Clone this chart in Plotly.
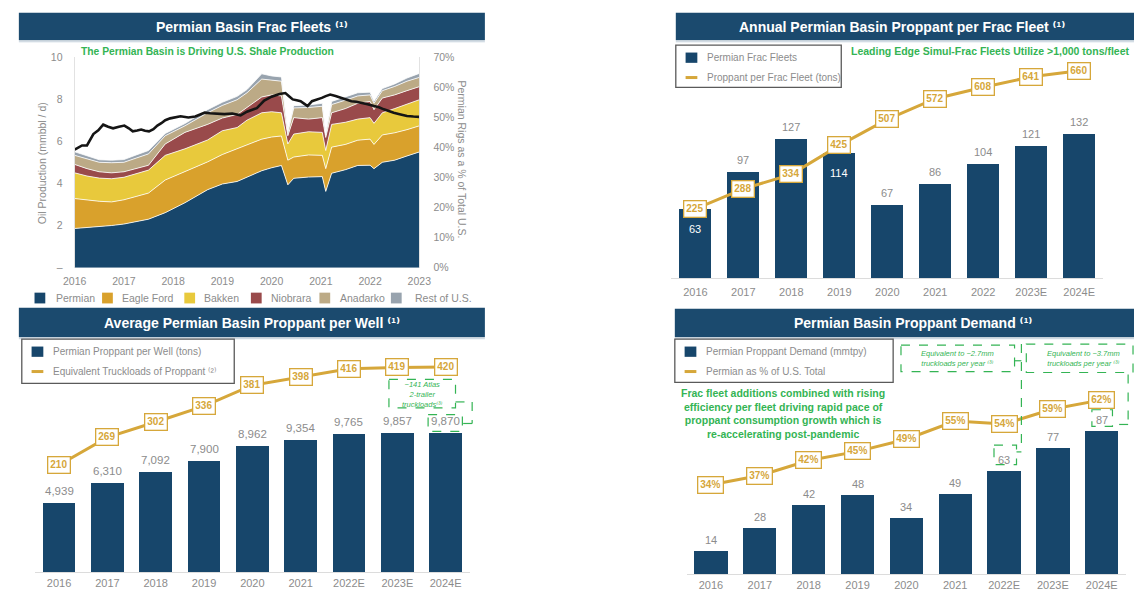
import plotly.graph_objects as go

W, H = 1146, 600
FONT = "Liberation Sans, Arial, DejaVu Sans, sans-serif"
NAVY = "#17466b"
GOLD = "#d6a73a"
GREEN = "#34b454"
GRAY = "#8c8c8c"
DARK_LINE = "#151515"

# ---------------- Permian Basin Frac Fleets: oil production by basin (mmbbl/d)
prod_dates = [2016.0, 2016.25, 2016.5, 2016.75, 2017.0, 2017.25, 2017.5, 2017.84, 2018.24, 2018.7,
              2019.0, 2019.3, 2019.5, 2019.8, 2020.0, 2020.2, 2020.33, 2020.45, 2020.75, 2021.03,
              2021.1, 2021.22, 2021.5, 2021.75, 2022.0, 2022.08, 2022.25, 2022.5, 2022.75, 2023.0]
permian = [1.86, 1.90, 1.95, 2.00, 2.07, 2.18, 2.30, 2.61, 3.08, 3.70,
           3.97, 4.09, 4.30, 4.60, 4.74, 4.85, 3.93, 4.24, 4.30, 4.32,
           3.62, 4.48, 4.65, 4.85, 4.86, 4.70, 5.00, 5.10, 5.30, 5.49]
eagle_ford = [1.42, 1.30, 1.20, 1.12, 1.15, 1.20, 1.24, 1.55, 1.47, 1.32,
              1.40, 1.55, 1.50, 1.50, 1.46, 1.40, 1.17, 1.01, 1.05, 1.01,
              1.08, 1.24, 1.20, 1.20, 1.24, 1.15, 1.30, 1.30, 1.25, 1.24]
bakken = [1.22, 1.15, 1.10, 1.10, 1.07, 1.07, 1.09, 1.17, 1.09, 1.04,
          1.13, 1.01, 1.20, 1.25, 1.20, 1.10, 0.77, 1.09, 1.10, 1.09,
          0.86, 1.08, 1.05, 1.00, 1.02, 1.00, 1.05, 1.15, 1.20, 1.24]
niobrara = [0.40, 0.35, 0.30, 0.28, 0.26, 0.27, 0.23, 0.54, 0.78, 0.74,
            0.60, 0.62, 0.60, 0.75, 0.80, 0.80, 0.39, 0.78, 0.60, 0.70,
            0.62, 0.55, 0.65, 0.75, 0.77, 0.65, 0.70, 0.65, 0.65, 0.62]
anadarko = [0.43, 0.45, 0.45, 0.48, 0.45, 0.48, 0.54, 0.39, 0.31, 0.55,
            0.60, 0.70, 0.70, 0.85, 0.70, 0.70, 0.14, 0.46, 0.55, 0.54,
            0.12, 0.39, 0.40, 0.35, 0.31, 0.30, 0.35, 0.40, 0.45, 0.44]
rest_us = [0.17, 0.15, 0.12, 0.12, 0.13, 0.15, 0.16, 0.11, 0.11, 0.15,
           0.15, 0.16, 0.15, 0.25, 0.20, 0.20, 0.10, 0.11, 0.12, 0.14,
           0.10, 0.15, 0.15, 0.15, 0.13, 0.10, 0.10, 0.12, 0.15, 0.19]
basin_names = ["Permian", "Eagle Ford", "Bakken", "Niobrara", "Anadarko", "Rest of U.S."]
basin_colors = ["#17466b", "#d9a12c", "#e8c93c", "#994a4b", "#bcaa86", "#98a3ae"]

# Permian rigs as % of total U.S.
rig_dates = [2016.0, 2016.08, 2016.15, 2016.25, 2016.38, 2016.48, 2016.58, 2016.68, 2016.78, 2016.9,
             2017.01, 2017.1, 2017.18, 2017.27, 2017.35, 2017.43, 2017.51, 2017.6, 2017.68, 2017.76,
             2017.84, 2017.94, 2018.04, 2018.15, 2018.31, 2018.45, 2018.55, 2018.64, 2018.75, 2018.88,
             2019.04, 2019.2, 2019.37, 2019.5, 2019.6, 2019.7, 2019.85, 2020.0, 2020.16, 2020.28,
             2020.36, 2020.43, 2020.51, 2020.59, 2020.66, 2020.73, 2020.82, 2020.92, 2021.02, 2021.1,
             2021.19, 2021.3, 2021.42, 2021.52, 2021.62, 2021.72, 2021.82, 2021.95, 2022.08, 2022.18,
             2022.28, 2022.38, 2022.48, 2022.6, 2022.75, 2022.88, 2023.0]
rig_share = [39.2, 40.0, 40.6, 40.6, 44.4, 45.6, 47.5, 46.8, 46.3, 46.8,
             47.2, 46.3, 45.3, 45.6, 45.9, 45.5, 45.3, 46.0, 47.2, 48.0,
             49.0, 49.6, 49.9, 50.3, 49.9, 50.2, 50.9, 51.5, 51.3, 51.1,
             51.0, 51.2, 50.6, 51.8, 52.3, 53.0, 55.5, 56.8, 57.7, 58.0,
             56.9, 55.9, 55.6, 55.3, 54.5, 53.7, 55.3, 55.8, 56.4, 57.0,
             57.5, 57.0, 56.4, 55.9, 55.3, 55.1, 54.8, 54.3, 53.7, 53.3,
             52.6, 52.0, 51.5, 51.0, 50.4, 50.2, 50.1]
prod_ticks = [0, 2, 4, 6, 8, 10]
prod_ticktext = ["–", "2", "4", "6", "8", "10"]
share_ticks = [0, 10, 20, 30, 40, 50, 60, 70]
year_ticks = [2016, 2017, 2018, 2019, 2020, 2021, 2022, 2023]

# ---------------- Annual Permian Basin Proppant per Frac Fleet
fleet_years = ["2016", "2017", "2018", "2019", "2020", "2021", "2022", "2023E", "2024E"]
frac_fleets = [63, 97, 127, 114, 67, 86, 104, 121, 132]
proppant_per_fleet = [225, 288, 334, 425, 507, 572, 608, 641, 660]

# ---------------- Average Permian Basin Proppant per Well
well_years = ["2016", "2017", "2018", "2019", "2020", "2021", "2022E", "2023E", "2024E"]
proppant_per_well = [4939, 6310, 7092, 7900, 8962, 9354, 9765, 9857, 9870]
truckloads = [210, 269, 302, 336, 381, 398, 416, 419, 420]

# ---------------- Permian Basin Proppant Demand
demand_years = ["2016", "2017", "2018", "2019", "2020", "2021", "2022E", "2023E", "2024E"]
proppant_demand = [14, 28, 42, 48, 34, 49, 63, 77, 87]
permian_share_pct = [34, 37, 42, 45, 49, 55, 54, 59, 62]

NOTE1, NOTE2, NOTE3 = "⁽¹⁾", "⁽²⁾", "⁽³⁾"


def X(px):
    return px / W


def Y(py):
    return 1 - py / H


fig = go.Figure()

# stacked production areas
for name, vals, color in zip(basin_names,
                             [permian, eagle_ford, bakken, niobrara, anadarko, rest_us],
                             basin_colors):
    fig.add_trace(go.Scatter(x=prod_dates, y=vals, name=name, stackgroup="prod", mode="lines",
                             line=dict(color="white", width=0.8), fillcolor=color,
                             xaxis="x", yaxis="y", hoverinfo="skip", showlegend=False))
fig.add_trace(go.Scatter(x=rig_dates, y=rig_share, mode="lines", line=dict(color=DARK_LINE, width=2.6),
                         xaxis="x", yaxis="y2", showlegend=False, hoverinfo="skip"))

# bar + line panels
fig.add_trace(go.Bar(x=fleet_years, y=frac_fleets, marker=dict(color=NAVY, line=dict(width=0)),
                     width=0.67, xaxis="x2", yaxis="y3", showlegend=False))
fig.add_trace(go.Scatter(x=fleet_years, y=proppant_per_fleet, mode="lines", line=dict(color=GOLD, width=3),
                         xaxis="x2", yaxis="y4", showlegend=False))
fig.add_trace(go.Bar(x=well_years, y=proppant_per_well, marker=dict(color=NAVY, line=dict(width=0)),
                     width=0.68, xaxis="x3", yaxis="y5", showlegend=False))
fig.add_trace(go.Scatter(x=well_years, y=truckloads, mode="lines", line=dict(color=GOLD, width=3),
                         xaxis="x3", yaxis="y6", showlegend=False))
fig.add_trace(go.Bar(x=demand_years, y=proppant_demand, marker=dict(color=NAVY, line=dict(width=0)),
                     width=0.68, xaxis="x4", yaxis="y7", showlegend=False))
fig.add_trace(go.Scatter(x=demand_years, y=permian_share_pct, mode="lines", line=dict(color=GOLD, width=3),
                         xaxis="x4", yaxis="y8", showlegend=False))

tickfont = dict(family=FONT, size=10.5, color=GRAY)
cat_axis = dict(type="category", range=[-0.5, 8.5], showgrid=False, zeroline=False, showline=True,
                linecolor="#dcdcdc", linewidth=1, ticks="", tickfont=dict(family=FONT, size=11, color=GRAY),
                fixedrange=True)
hidden = dict(visible=False, showgrid=False, zeroline=False, fixedrange=True)

fig.update_layout(
    width=W, height=H, margin=dict(l=0, r=0, t=0, b=0), autosize=False,
    paper_bgcolor="white", plot_bgcolor="white", bargap=0, showlegend=False,
    font=dict(family=FONT),
    xaxis=dict(domain=[X(64), X(416)], range=[2016, 2023], tickvals=year_ticks, anchor="y",
               showgrid=False, zeroline=False, showline=False, ticks="", tickfont=tickfont,
               ticklabelstandoff=6, fixedrange=True),
    yaxis=dict(domain=[Y(267), Y(52)], range=[0, 10], anchor="x", tickvals=prod_ticks,
               ticktext=prod_ticktext, showgrid=False, zeroline=False, showline=True,
               linecolor="#e2e2e2", ticks="", tickfont=tickfont, ticklabelstandoff=9, fixedrange=True),
    yaxis2=dict(overlaying="y", side="right", anchor="x", range=[0, 70], tickvals=share_ticks,
                ticktext=[f"{v}%" for v in share_ticks], showgrid=False, zeroline=False,
                showline=True, linecolor="#e2e2e2", ticks="", tickfont=tickfont, ticklabelstandoff=11,
                fixedrange=True),
    xaxis2=dict(cat_axis, domain=[X(673.5), X(1114.5)], anchor="y3", ticklabelstandoff=3),
    yaxis3=dict(hidden, domain=[Y(278), Y(40)], anchor="x2", range=[0, 212.5]),
    yaxis4=dict(hidden, overlaying="y3", anchor="x2", range=[6.2, 740.5]),
    xaxis3=dict(cat_axis, domain=[X(23.4), X(467.6)], anchor="y5"),
    yaxis5=dict(hidden, domain=[Y(578), Y(340)], anchor="x3", range=[0, 16505]),
    yaxis6=dict(hidden, overlaying="y5", anchor="x3", range=[-20.4, 479.6]),
    xaxis4=dict(cat_axis, domain=[X(689), X(1138)], anchor="y7"),
    yaxis7=dict(hidden, domain=[Y(580), Y(340)], anchor="x4", range=[0, 142.9]),
    yaxis8=dict(hidden, overlaying="y7", anchor="x4", range=[4.37, 82.04]),
)

shapes = []
annotations = []


def rect(x0, y0, x1, y1, fill=None, line_color=None, width=1.0, dash="solid"):
    shapes.append(dict(type="rect", xref="paper", yref="paper", x0=X(x0), x1=X(x1), y0=Y(y0), y1=Y(y1),
                       fillcolor=fill if fill else "rgba(0,0,0,0)",
                       line=dict(color=line_color if line_color else "rgba(0,0,0,0)", width=width, dash=dash),
                       layer="above"))


def seg(x0, y0, x1, y1, color, width=1.0, dash="solid"):
    shapes.append(dict(type="line", xref="paper", yref="paper", x0=X(x0), x1=X(x1), y0=Y(y0), y1=Y(y1),
                       line=dict(color=color, width=width, dash=dash), layer="above"))


def note(x, y, text, size=10.5, color=GRAY, xanchor="left", yanchor="middle", align="left", angle=0):
    annotations.append(dict(x=X(x), y=Y(y), xref="paper", yref="paper", text=text, showarrow=False,
                            xanchor=xanchor, yanchor=yanchor, align=align, textangle=angle,
                            font=dict(family=FONT, size=size, color=color)))


# title bars
for (x0, y0, x1, y1) in [(7, 7, 483, 35), (678, 7, 1146, 35), (7, 308, 483, 338), (677, 309, 1146, 338)]:
    rect(x0, y0, x1, y1, fill="#1b4a6e")
    seg(x0, y1 + 1.5, x1, y1 + 1.5, "#c3d0db", 1)
for x, y, title in [(245, 21, "Permian Basin Frac Fleets"),
                    (909, 21, "Annual Permian Basin Proppant per Frac Fleet"),
                    (245, 323, "Average Permian Basin Proppant per Well"),
                    (920, 323.5, "Permian Basin Proppant Demand")]:
    note(x, y, f"<b>{title} {NOTE1}</b>", size=14, color="white", xanchor="center")

# --- production panel texts
note(68, 46, "<b>The Permian Basin is Driving U.S. Shale Production</b>", size=10.3, color=GREEN)
note(30, 160, "Oil Production (mmbbl / d)", size=10.5, color=GRAY, xanchor="center", angle=-90)
note(460, 157, "Permian Rigs as a % of Total U.S.", size=10.5, color=GRAY, xanchor="center", angle=90)
leg_sq = [23, 92, 176, 244, 314, 387]
leg_tx = [43, 110, 194, 263, 333, 410]
for name, color, sx, tx in zip(basin_names, basin_colors, leg_sq, leg_tx):
    rect(sx, 292.5, sx + 11, 303.5, fill=color)
    note(tx, 298, name, size=10.5)


# --- legend boxes for the bar panels
def legend_box(x0, y0, x1, y1, bar_label, line_label):
    rect(x0, y0, x1, y1, line_color="#5a5a5a", width=1.3)
    rect(x0 + 10, y0 + 7.5, x0 + 22, y0 + 18, fill=NAVY)
    note(x0 + 30, y0 + 12.5, bar_label, size=10)
    seg(x0 + 10, y0 + 33, x0 + 22, y0 + 33, GOLD, 3)
    note(x0 + 30, y0 + 33, line_label, size=10)


legend_box(678, 40, 847, 83, "Permian Frac Fleets", "Proppant per Frac Fleet (tons)")
legend_box(10, 340, 227, 385, "Permian Proppant per Well (tons)", f"Equivalent Truckloads of Proppant {NOTE2}")
legend_box(677, 340, 900, 384, "Permian Proppant Demand (mmtpy)", "Permian as % of U.S. Total")

note(855, 46, "<b>Leading Edge Simul-Frac Fleets Utilize >1,000 tons/fleet</b>", size=10.5, color=GREEN)
note(787, 415.5, "<b>Frac fleet additions combined with rising<br>efficiency per fleet driving rapid pace of<br>"
                 "proppant consumption growth which is<br>re-accelerating post-pandemic</b>",
     size=10.5, color=GREEN, xanchor="center", align="center")


# --- value labels (category positions given by index so numeric-looking years stay on their bars)
def bar_labels(cats, vals, xref, yref, fmt, inside=(), shift=12, size=11):
    for i, (c, v) in enumerate(zip(cats, vals)):
        inner = c in inside
        annotations.append(dict(x=i, y=v, xref=xref, yref=yref, text=fmt(v), showarrow=False,
                                yshift=-20 if inner else shift,
                                font=dict(family=FONT, size=size, color="white" if inner else GRAY)))


def line_labels(vals, xref, yref, fmt):
    for i, v in enumerate(vals):
        annotations.append(dict(x=i, y=v, xref=xref, yref=yref, text=f"<b>{fmt(v)}</b>", showarrow=False,
                                bgcolor="white", bordercolor=GOLD, borderwidth=1.3, borderpad=2,
                                font=dict(family=FONT, size=10, color=GOLD)))


bar_labels(fleet_years, frac_fleets, "x2", "y3", str, inside=("2016", "2019"))
line_labels(proppant_per_fleet, "x2", "y4", str)
bar_labels(well_years, proppant_per_well, "x3", "y5", lambda v: f"{v:,}", size=11.5)
line_labels(truckloads, "x3", "y6", str)
bar_labels(demand_years, proppant_demand, "x4", "y7", str, shift=11)
line_labels(permian_share_pct, "x4", "y8", lambda v: f"{v}%")

# --- dashed call-outs
rect(385, 381, 453, 410, line_color=GREEN, width=1.2, dash="dash")
seg(453, 404, 470, 404, GREEN, 1.2, "dash")
seg(470, 404, 470, 426, GREEN, 1.2, "dash")
seg(470, 426, 460, 426, GREEN, 1.2, "dash")
rect(425, 417, 460, 434, line_color=GREEN, width=1.2, dash="dash")
note(419, 396, f"<i>~141 Atlas<br>2-trailer<br>truckloads{NOTE3}</i>", size=7.5, color=GREEN,
     xanchor="center", align="center")

rect(908, 346, 1024, 373, line_color=GREEN, width=1.2, dash="dash")
seg(1024, 362, 1031, 362, GREEN, 1.2, "dash")
seg(1031, 345, 1031, 455, GREEN, 1.2, "dash")
seg(1031, 455, 1026, 455, GREEN, 1.2, "dash")
rect(1003, 448, 1026, 468, line_color=GREEN, width=1.2, dash="dash")
note(966, 360, f"<i>Equivalent to ~2.7mm<br>truckloads per year {NOTE3}</i>", size=7.5, color=GREEN,
     xanchor="center", align="center")

rect(1036, 345, 1145, 374, line_color=GREEN, width=1.2, dash="dash")
seg(1140, 376, 1140, 427, GREEN, 1.2, "dash")
seg(1140, 427, 1125, 427, GREEN, 1.2, "dash")
rect(1103, 412, 1124, 429, line_color=GREEN, width=1.2, dash="dash")
note(1094, 360, f"<i>Equivalent to ~3.7mm<br>truckloads per year {NOTE3}</i>", size=7.5, color=GREEN,
     xanchor="center", align="center")

fig.update_layout(shapes=shapes, annotations=annotations)
# static page: no drag handles or mode bar around the panels
fig.write_html("out.html", config={"staticPlot": True, "displayModeBar": False})
